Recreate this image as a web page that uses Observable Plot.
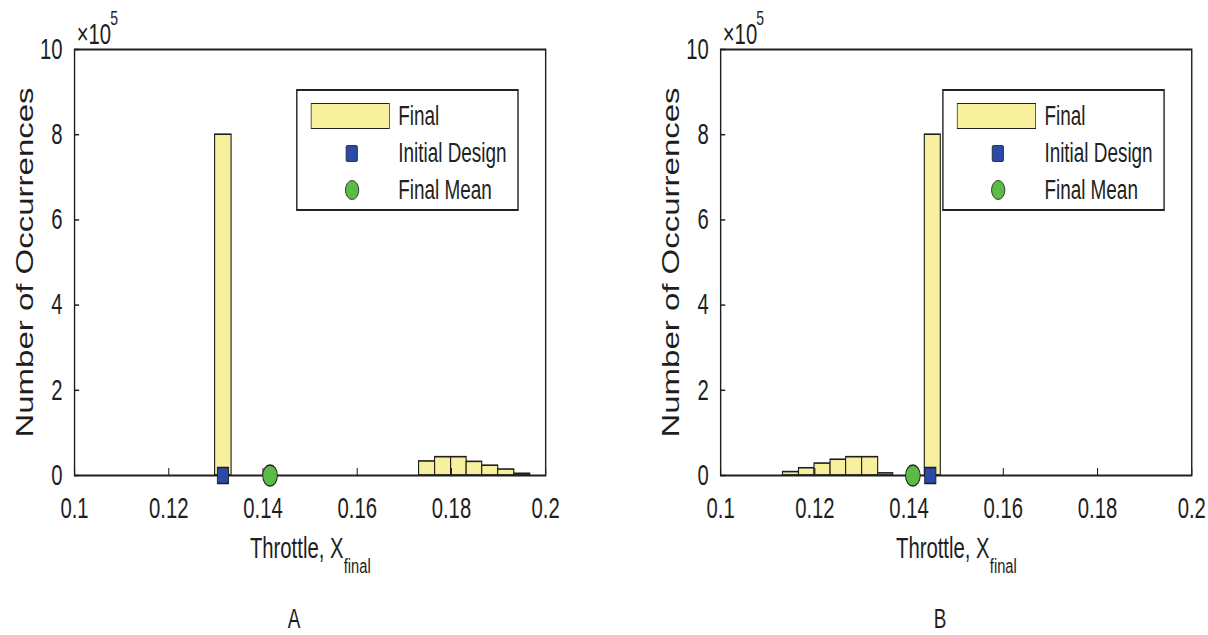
<!DOCTYPE html>
<html>
<head>
<meta charset="utf-8">
<script src="https://cdn.jsdelivr.net/npm/d3@7"></script>
<script src="https://cdn.jsdelivr.net/npm/@observablehq/plot@0.6"></script>
<style>
  html, body { margin: 0; padding: 0; background: #fff; overflow: hidden; }
  #stage { position: relative; width: 1726px; height: 635px; transform: scaleX(0.7); transform-origin: 0 0;
           font-family: "Liberation Sans", Arial, Helvetica, sans-serif; color: #222; }
  .panel { position: absolute; top: 0; height: 635px; }
  .legend { position: absolute; left: 423px; top: 89px; width: 318px; height: 122px; border: 2px solid #222;
            background: #fff; box-sizing: border-box; }
  .legend .sw { position: absolute; box-sizing: border-box; border: 1.5px solid #222; }
  .legend .lbl { position: absolute; left: 144px; font-size: 27px; line-height: 27px; transform: translateY(-50%); white-space: nowrap; color: #222; }
</style>
</head>
<body>
<div id="stage"></div>
<script>
// ---- data ----
const xTicks = [0.1, 0.12, 0.14, 0.16, 0.18, 0.2];
const yTicks = [0, 200000, 400000, 600000, 800000, 1000000];

const leftBinStart = [0.1298, 0.1731, 0.1765, 0.1799, 0.1832, 0.1865, 0.1899, 0.1933];
const leftBinEnd   = [0.1333, 0.1765, 0.1799, 0.1832, 0.1865, 0.1899, 0.1933, 0.1967];
const leftCounts   = [800000, 33000, 43000, 43000, 32000, 23000, 14000, 4000];
const leftInitialDesign = 0.1315;
const leftFinalMean = 0.1415;

const rightBinStart = [0.1132, 0.1166, 0.1199, 0.1233, 0.1266, 0.1300, 0.1334, 0.1433];
const rightBinEnd   = [0.1166, 0.1199, 0.1233, 0.1266, 0.1300, 0.1334, 0.1366, 0.1467];
const rightCounts   = [8000, 17000, 28000, 37000, 43000, 43000, 5000, 800000];
const rightInitialDesign = 0.1445;
const rightFinalMean = 0.1408;

const legendLabels = ["Final", "Initial Design", "Final Mean"];
const panelLetters = ["A", "B"];
const yLabel = "Number of Occurrences";
const xLabelMain = "Throttle, X";
const xLabelSub = "final";

// ---- styles ----
const YELLOW = "#f7f19e";
const BLUE = "#2b49a6";
const GREEN = "#5cba47";
const INK = "#1e1e1e";
const FONT = '"Liberation Sans", Arial, Helvetica, sans-serif';

function makeBins(starts, ends, counts) {
  return starts.map((s, i) => ({x1: s, x2: ends[i], count: counts[i]}));
}

function chart(bins, initial, mean, letter, width, marginRight) {
  return Plot.plot({
    width, height: 635,
    marginLeft: 106, marginRight, marginTop: 49, marginBottom: 160,
    style: {fontFamily: FONT, fontSize: "29px", color: INK, background: "transparent", overflow: "visible"},
    x: {domain: [0.1, 0.2]},
    y: {domain: [0, 1000000]},
    marks: [
      Plot.rectY(bins, {x1: "x1", x2: "x2", y: "count", fill: YELLOW, stroke: INK, strokeWidth: 1.6}),
      Plot.frame({stroke: INK, strokeWidth: 2}),
      Plot.axisX({ticks: xTicks, tickSize: -7, tickPadding: 29, tickFormat: d => String(d), label: null, strokeWidth: 1.5}),
      Plot.axisY({ticks: yTicks, tickSize: -7, tickPadding: 24, tickFormat: d => String(d / 100000), label: null, strokeWidth: 1.5}),
      Plot.dot([{x: mean, y: 0}], {x: "x", y: "y", symbol: "circle", r: 10.5, fill: GREEN, stroke: INK, strokeWidth: 1.3}),
      Plot.dot([{x: initial, y: 0}], {x: "x", y: "y", symbol: "square", r: 9, fill: BLUE, stroke: INK, strokeWidth: 1.3}),
      Plot.text([yLabel], {text: d => d, frameAnchor: "left", rotate: -90, dx: -70, fontSize: 33, textAnchor: "middle", lineAnchor: "middle", fill: INK}),
      Plot.text(["×10"], {text: d => d, frameAnchor: "top-left", textAnchor: "start", lineAnchor: "bottom", dx: 3, dy: -6, fontSize: 29, fill: INK}),
      Plot.text(["5"], {text: d => d, frameAnchor: "top-left", textAnchor: "start", lineAnchor: "bottom", dx: 51, dy: -25, fontSize: 20, fill: INK}),
      Plot.text([xLabelMain], {text: d => d, frameAnchor: "bottom", textAnchor: "start", lineAnchor: "bottom", dx: -86, dy: 82, fontSize: 29, fill: INK}),
      Plot.text([xLabelSub], {text: d => d, frameAnchor: "bottom", textAnchor: "start", lineAnchor: "bottom", dx: 48, dy: 97, fontSize: 21, fill: INK}),
      Plot.text([letter], {text: d => d, frameAnchor: "bottom", textAnchor: "middle", lineAnchor: "bottom", dx: -23, dy: 152, fontSize: 27, fill: INK})
    ]
  });
}

function legend() {
  const lg = document.createElement("div");
  lg.className = "legend";
  lg.innerHTML = `
    <div class="sw" style="left:19px;top:12px;width:113px;height:26px;background:${YELLOW}"></div>
    <div class="sw" style="left:69px;top:54px;width:17px;height:17px;background:${BLUE};border-radius:2px"></div>
    <div class="sw" style="left:68px;top:89px;width:20px;height:20px;background:${GREEN};border-radius:50%"></div>
    <div class="lbl" style="top:25px">${legendLabels[0]}</div>
    <div class="lbl" style="top:62px">${legendLabels[1]}</div>
    <div class="lbl" style="top:99px">${legendLabels[2]}</div>`;
  return lg;
}

const stage = document.getElementById("stage");

const left = document.createElement("div");
left.className = "panel";
left.style.left = "0px";
left.style.width = "923px";
left.appendChild(chart(makeBins(leftBinStart, leftBinEnd, leftCounts), leftInitialDesign, leftFinalMean, panelLetters[0], 923, 144));
left.appendChild(legend());
stage.appendChild(left);

const right = document.createElement("div");
right.className = "panel";
right.style.left = "923px";
right.style.width = "803px";
right.appendChild(chart(makeBins(rightBinStart, rightBinEnd, rightCounts), rightInitialDesign, rightFinalMean, panelLetters[1], 803, 24));
right.appendChild(legend());
stage.appendChild(right);
</script>
</body>
</html>
